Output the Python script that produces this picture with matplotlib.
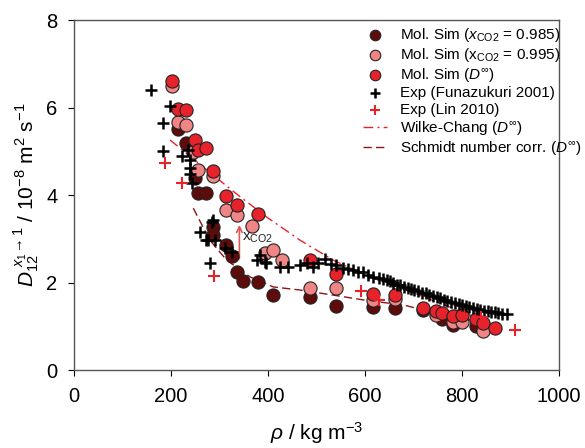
import numpy as np
import matplotlib.pyplot as plt

plt.rcParams['font.family'] = ['Liberation Sans', 'DejaVu Sans']
plt.rcParams['mathtext.fontset'] = 'custom'
plt.rcParams['mathtext.rm'] = 'Liberation Sans'
plt.rcParams['mathtext.it'] = 'Liberation Sans:italic'
plt.rcParams['mathtext.bf'] = 'Liberation Sans:bold'

# ─── data ───────────────────────────────────────────────────
# Mol. Sim, D_inf
rho_dinf = [203, 215, 231, 249, 256, 273, 286, 313, 337, 380, 487, 540,
            616, 662, 720, 746, 758, 782, 800, 828, 844, 868]
d_dinf = [6.61, 5.98, 5.94, 5.27, 5.04, 5.07, 4.55, 3.98, 3.77, 3.57, 2.51, 2.20,
          1.74, 1.71, 1.43, 1.36, 1.31, 1.23, 1.26, 1.16, 1.08, 0.95]
# Mol. Sim, x_CO2 = 0.995
rho_995 = [203, 215, 231, 246, 256, 286, 313, 337, 368, 394, 410, 428, 487,
           540, 616, 662, 746, 782, 800, 844]
d_995 = [6.49, 5.68, 5.60, 4.99, 4.57, 4.43, 3.66, 3.54, 3.29, 2.67, 2.74, 2.51, 1.87,
         1.88, 1.60, 1.62, 1.25, 1.10, 1.10, 0.90]
# Mol. Sim, x_CO2 = 0.985
rho_985 = [215, 231, 249, 256, 273, 286, 286, 313, 325, 337, 349, 379, 410,
           487, 540, 616, 662, 720, 758, 782, 828]
d_985 = [5.50, 5.20, 4.38, 4.04, 4.04, 3.28, 3.08, 2.86, 2.60, 2.25, 2.04, 2.02, 1.71,
         1.68, 1.46, 1.44, 1.43, 1.37, 1.17, 1.03, 1.01]

# Exp (Funazukuri 2001)
rho_fun = [159, 183, 183, 197, 223, 236, 239, 240, 239, 243, 260, 273, 277, 280,
           284, 287, 291, 311, 325, 377, 384, 394, 396, 425, 441, 466, 480, 493,
           503, 518, 530, 541, 555, 566, 576, 586, 596, 607, 617, 628, 638, 645,
           651, 658, 665, 672, 680, 688, 695, 702, 710, 718, 725, 733, 740, 748,
           755, 762, 770, 778, 785, 793, 800, 808, 815, 823, 830, 838, 845, 853,
           860, 868, 875, 883, 892]
d_fun = [6.40, 5.66, 5.00, 6.03, 4.90, 5.02, 4.80, 4.61, 4.49, 4.27, 3.15, 2.97, 2.97, 2.44,
         3.39, 3.43, 2.97, 2.78, 2.71, 2.51, 2.63, 2.48, 2.44, 2.36, 2.36, 2.40, 2.45, 2.36,
         2.44, 2.55, 2.42, 2.40, 2.33, 2.30, 2.29, 2.24, 2.25, 2.18, 2.13, 2.10, 2.08, 2.05,
         2.04, 2.00, 1.94, 1.95, 1.90, 1.88, 1.85, 1.83, 1.80, 1.77, 1.76, 1.72, 1.69, 1.67,
         1.64, 1.61, 1.58, 1.56, 1.53, 1.51, 1.48, 1.46, 1.44, 1.42, 1.40, 1.38, 1.36, 1.35,
         1.33, 1.32, 1.30, 1.29, 1.28]

# Exp (Lin 2010)
rho_lin = [188, 222, 289, 591, 629, 840, 910]
d_lin = [4.74, 4.28, 2.15, 1.80, 1.60, 1.22, 0.91]

# Wilke-Chang (D_inf)
rho_wc = [198, 270, 329, 397, 466, 535, 610, 713, 816, 878]
d_wc = [5.26, 4.61, 4.08, 3.50, 2.97, 2.51, 2.13, 1.71, 1.26, 0.99]

# Schmidt number corr. (D_inf)
rho_sc = [246, 280, 315, 363, 411, 466, 548, 610, 679, 748, 851]
d_sc = [3.70, 2.97, 2.51, 2.13, 1.90, 1.83, 1.69, 1.58, 1.49, 1.29, 1.07]

# ─── figure ────────────────────────────────────────────────
fig = plt.figure(figsize=(5.85, 4.48), dpi=100)
ax = fig.add_axes([0.1265, 0.174, 0.829, 0.781])

c_dark = '#5e0b0b'
c_pink = '#f08585'
c_red = '#e8222a'

ax.plot(rho_wc, d_wc, color=c_red, lw=1.0, dashes=[7, 3, 1.5, 3], zorder=1,
        label=r'Wilke-Chang ($D^{\infty}$)')
ax.plot(rho_sc, d_sc, color='#8e1515', lw=1.0, dashes=[6, 3], zorder=1,
        label=r'Schmidt number corr. ($D^{\infty}$)')

ax.scatter(rho_985, d_985, s=90, c=c_dark, edgecolors='#222222', linewidths=0.8,
           zorder=3, label=r'Mol. Sim ($x_{\mathrm{CO2}}$ = 0.985)')
ax.scatter(rho_995, d_995, s=90, c=c_pink, edgecolors='#222222', linewidths=0.8,
           zorder=3, label=r'Mol. Sim (x$_{\mathrm{CO2}}$ = 0.995)')
ax.scatter(rho_dinf, d_dinf, s=90, c=c_red, edgecolors='#222222', linewidths=0.8,
           zorder=3, label=r'Mol. Sim ($D^{\infty}$)')
ax.scatter(rho_fun, d_fun, s=85, marker='+', c='black', linewidths=1.8,
           zorder=4, label='Exp (Funazukuri 2001)')
ax.scatter(rho_lin, d_lin, s=85, marker='+', c=c_red, linewidths=1.5,
           zorder=4, label='Exp (Lin 2010)')

# arrow x_CO2
ax.annotate('', xy=(341, 3.38), xytext=(341, 2.48),
            arrowprops=dict(arrowstyle='->', color='#e05555', lw=1.2), zorder=2)
ax.text(347, 2.95, r'x$_{\mathrm{CO2}}$', fontsize=11, color='#222222')

ax.set_xlim(0, 1000)
ax.set_ylim(0, 8)
ax.set_xticks(np.arange(0, 1001, 200))
ax.set_yticks(np.arange(0, 9, 2))
ax.tick_params(axis='both', direction='out', length=4, labelsize=14.5, top=False, right=False)
ax.tick_params(axis='x', pad=8)
ax.tick_params(axis='y', pad=8)
for s in ax.spines.values():
    s.set_color('#555555')
    s.set_linewidth(1.0)

ax.set_xlabel(r'$\rho$ / kg m$^{-3}$', fontsize=15, labelpad=10)
ax.set_ylabel(r'$D_{12}^{\ x_1\!\rightarrow 1}$ / 10$^{-8}$ m$^{2}$ s$^{-1}$', fontsize=15, labelpad=4)

h, l = ax.get_legend_handles_labels()
order = [2, 3, 4, 5, 6, 0, 1]
ax.legend([h[i] for i in order], [l[i] for i in order], loc='upper right',
          bbox_to_anchor=(1.067, 1.015), frameon=False, fontsize=11,
          handlelength=1.6, handletextpad=0.8, labelspacing=0.15,
          borderaxespad=0.3, markerscale=0.8)

plt.savefig('out.png', dpi=100)
